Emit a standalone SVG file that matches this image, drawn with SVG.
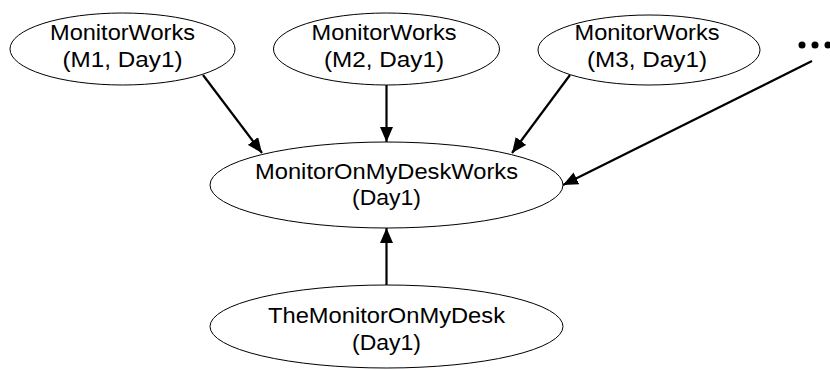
<svg xmlns="http://www.w3.org/2000/svg" width="830" height="370" viewBox="0 0 830 370">
<defs>
<style>
.node ellipse{fill:#fff;stroke:#000;stroke-width:1}
.node text{font-family:"Liberation Sans",Arial,sans-serif;font-size:22px;fill:#000;text-anchor:middle}
.edges line{stroke:#000;stroke-width:2.2}
</style>
<marker id="ah" markerWidth="15" markerHeight="13" refX="15" refY="6.5" orient="auto" markerUnits="userSpaceOnUse">
<path d="M0,0 L15,6.5 L0,13 Z" fill="#000"/>
</marker>
</defs>
<rect width="830" height="370" fill="#fff"/>
<g id="edges" class="edges">
<line x1="203" y1="75" x2="262" y2="153" marker-end="url(#ah)"/>
<line x1="386.5" y1="85" x2="386.5" y2="142" marker-end="url(#ah)"/>
<line x1="570" y1="75" x2="512" y2="153" marker-end="url(#ah)"/>
<line x1="812" y1="61" x2="563" y2="185" marker-end="url(#ah)"/>
<line x1="386.5" y1="285" x2="386.5" y2="228" marker-end="url(#ah)"/>
</g>
<g id="m1" class="node">
<ellipse cx="122.5" cy="49" rx="112.5" ry="36"/>
<text x="122.5" y="40" textLength="145" lengthAdjust="spacingAndGlyphs">MonitorWorks</text>
<text x="122.5" y="67" textLength="120" lengthAdjust="spacingAndGlyphs">(M1, Day1)</text>
</g>
<g id="m2" class="node">
<ellipse cx="386.5" cy="49" rx="113" ry="36"/>
<text x="384" y="40" textLength="145" lengthAdjust="spacingAndGlyphs">MonitorWorks</text>
<text x="384" y="67" textLength="120" lengthAdjust="spacingAndGlyphs">(M2, Day1)</text>
</g>
<g id="m3" class="node">
<ellipse cx="649" cy="50" rx="111" ry="35"/>
<text x="647" y="40" textLength="145" lengthAdjust="spacingAndGlyphs">MonitorWorks</text>
<text x="647" y="67" textLength="120" lengthAdjust="spacingAndGlyphs">(M3, Day1)</text>
</g>
<g id="more">
<circle cx="802" cy="45" r="3.5" fill="#000"/>
<circle cx="815" cy="45" r="3.5" fill="#000"/>
<circle cx="828" cy="45" r="3.5" fill="#000"/>
</g>
<g id="works" class="node">
<ellipse cx="386.5" cy="185" rx="176.5" ry="43"/>
<text x="386.5" y="179" textLength="263" lengthAdjust="spacingAndGlyphs">MonitorOnMyDeskWorks</text>
<text x="386.5" y="205" textLength="69" lengthAdjust="spacingAndGlyphs">(Day1)</text>
</g>
<g id="desk" class="node">
<ellipse cx="386.5" cy="326.5" rx="176.5" ry="41.5"/>
<text x="386.5" y="323" textLength="237" lengthAdjust="spacingAndGlyphs">TheMonitorOnMyDesk</text>
<text x="386.5" y="350" textLength="69" lengthAdjust="spacingAndGlyphs">(Day1)</text>
</g>
</svg>
